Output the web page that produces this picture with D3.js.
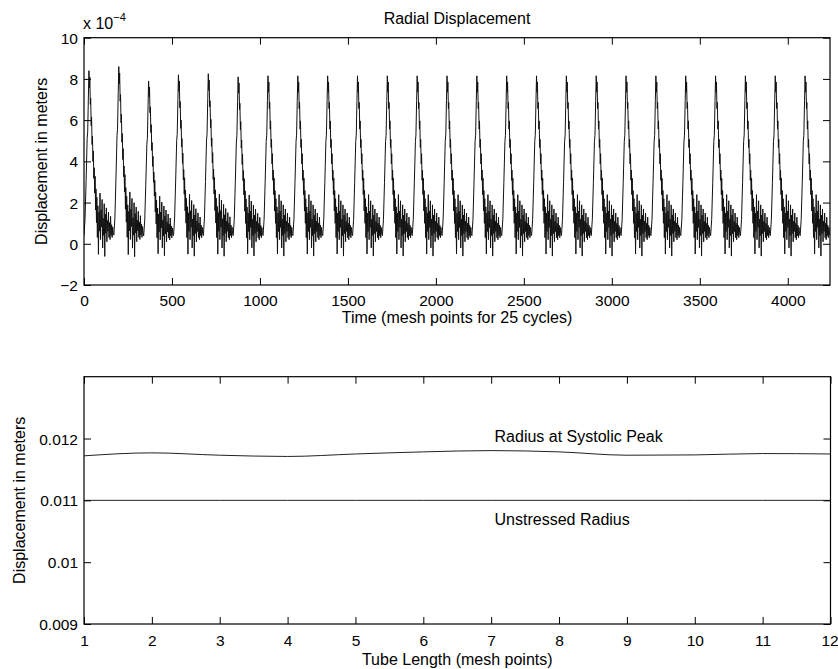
<!DOCTYPE html>
<html>
<head>
<meta charset="utf-8">
<script src="https://d3js.org/d3.v7.min.js"></script>
<style>
  body { margin: 0; background: #fff; }
  text { font-family: "Liberation Sans", Arial, Helvetica, sans-serif; fill: #000; }
</style>
</head>
<body>
<div id="chart"></div>
<script>
// top panel: radial displacement over 25 cardiac cycles (units of 1e-4 m)
var cycleCount = 25;
var cyclePeriod = 169.6;   // mesh points per cycle
var cyclePeaks = [8.4, 8.6, 7.9, 8.2, 8.25, 8.1, 8.15, 8.15, 8.15, 8.15, 8.15, 8.15, 8.15,
                  8.15, 8.15, 8.15, 8.15, 8.15, 8.15, 8.15, 8.15, 8.15, 8.15, 8.15, 8.15];
// one cycle: offset in mesh points, value
var shapeT = [0, 6, 12, 18, 21, 25, 28, 31, 33, 36, 38, 41, 43, 46, 48, 51, 53, 56, 58, 61, 63,
              66, 68, 71, 73, 76, 79, 82, 85, 88, 91, 94, 97, 100, 103, 106, 109, 112, 115, 118,
              121, 124, 127, 130, 133, 136, 139, 142, 145, 148, 151, 154, 157, 160, 163, 166];
var shapeV = [0.4, 1.2, 3.0, 5.0, 5.3, 7.0, 8.2, 7.4, 7.9, 6.6, 6.9, 5.6, 6.0, 4.7, 5.1, 3.9, 4.4,
              3.1, 3.6, 2.4, 3.2, 1.6, 2.6, 1.0, 2.2, 0.3, 1.8, -0.5, 1.5, 0.6, 2.4, 0.2, 1.6, 0.8,
              2.1, -0.2, 1.2, 0.4, 1.9, -0.6, 1.4, 0.5, 1.7, 0.1, 1.1, 0.6, 1.5, 0.3, 1.0, 0.2, 1.3,
              0.4, 0.9, 0.3, 0.8, 0.5];
var timeTicks = [0, 500, 1000, 1500, 2000, 2500, 3000, 3500, 4000];
var dispTicks = [-2, 0, 2, 4, 6, 8, 10];

// bottom panel: radius along the tube
var meshPoints = [1, 2, 3, 4, 5, 6, 7, 8, 9, 10, 11, 12];
var systolicRadius = [0.01172, 0.011768, 0.01173, 0.01171, 0.01175, 0.011784, 0.011805,
                      0.011784, 0.01173, 0.011735, 0.011757, 0.01175];
var unstressedRadius = [0.011, 0.011, 0.011, 0.011, 0.011, 0.011, 0.011, 0.011, 0.011, 0.011, 0.011, 0.011];
var radiusTicks = [0.009, 0.01, 0.011, 0.012];
var lineLabels = [
    { text: "Radius at Systolic Peak", x: 7.05, y: 0.01203 },
    { text: "Unstressed Radius", x: 7.05, y: 0.0107 }
];

var svgWidth = 838;
var svgHeight = 669;
var tick = 7;

var svg = d3.select("#chart")
    .append("svg")
    .attr("width", svgWidth)
    .attr("height", svgHeight);

// build the time series from the cycle read above
var series = [];
for (var k = 0; k < cycleCount; k++) {
    var start = k * cyclePeriod;
    var s = cyclePeaks[k] / 8.2;
    shapeT.forEach(function (t, i) {
        series.push({ t: start + t, v: shapeV[i] * s });
    });
}
series.push({ t: cycleCount * cyclePeriod, v: 0.4 });

function box(g, w, h) {
    g.append("rect")
        .attr("width", w)
        .attr("height", h)
        .attr("fill", "none")
        .attr("stroke", "#000")
        .attr("stroke-width", 1.2);
}

function axes(g, x, y, w, h, xTicks, yTicks, xFmt, yFmt, labelY) {
    var bottom = g.append("g")
        .attr("transform", `translate(0, ${h})`)
        .call(d3.axisBottom(x).tickValues(xTicks).tickSizeInner(-tick).tickSizeOuter(0).tickFormat(xFmt));
    bottom.selectAll("text").attr("y", labelY).attr("dy", null).style("font-size", "15.5px");

    g.append("g")
        .call(d3.axisTop(x).tickValues(xTicks).tickSizeInner(-tick).tickSizeOuter(0).tickFormat(""));

    var left = g.append("g")
        .call(d3.axisLeft(y).tickValues(yTicks).tickSizeInner(-tick).tickSizeOuter(0)
            .tickPadding(6).tickFormat(yFmt));
    left.selectAll("text").style("font-size", "15.5px").attr("dy", "0.36em");

    g.append("g")
        .attr("transform", `translate(${w}, 0)`)
        .call(d3.axisRight(y).tickValues(yTicks).tickSizeInner(-tick).tickSizeOuter(0).tickFormat(""));

    g.selectAll(".domain").remove();
    g.selectAll(".tick line").attr("stroke", "#000").attr("stroke-width", 1);
    g.selectAll(".tick text").attr("fill", "#000").style("font-family", "Liberation Sans, Arial, sans-serif");
    box(g, w, h);
}

// ---- top panel ----
var top1 = { left: 84, top: 37.7, width: 746, height: 247.3 };
var g1 = svg.append("g").attr("transform", `translate(${top1.left}, ${top1.top})`);

var xTime = d3.scaleLinear().domain([0, cycleCount * cyclePeriod]).range([0, top1.width]);
var yDisp = d3.scaleLinear().domain([-2, 10]).range([top1.height, 0]);

g1.append("clipPath").attr("id", "clip1")
    .append("rect").attr("width", top1.width).attr("height", top1.height);

g1.append("path")
    .datum(series)
    .attr("clip-path", "url(#clip1)")
    .attr("fill", "none")
    .attr("stroke", "#111")
    .attr("stroke-width", 1)
    .attr("d", d3.line().x(function (d) { return xTime(d.t); }).y(function (d) { return yDisp(d.v); }));

axes(g1, xTime, yDisp, top1.width, top1.height, timeTicks, dispTicks, d3.format("d"),
    function (d) { return d < 0 ? "\u2212" + Math.abs(d) : d; }, 21);

svg.append("text")
    .attr("x", top1.left + top1.width / 2)
    .attr("y", 24)
    .style("text-anchor", "middle")
    .style("font-size", "16px")
    .text("Radial Displacement");

var expo = svg.append("text")
    .attr("x", 83)
    .attr("y", 29)
    .style("font-size", "16px");
expo.append("tspan").text("x 10");
expo.append("tspan").attr("dy", -8).style("font-size", "11px").text("\u22124");

svg.append("text")
    .attr("x", top1.left + top1.width / 2)
    .attr("y", 323)
    .style("text-anchor", "middle")
    .style("font-size", "16px")
    .text("Time (mesh points for 25 cycles)");

svg.append("text")
    .attr("transform", "rotate(-90)")
    .attr("x", -(top1.top + top1.height / 2))
    .attr("y", 47)
    .style("text-anchor", "middle")
    .style("font-size", "16px")
    .text("Displacement in meters");

// ---- bottom panel ----
var bot = { left: 84, top: 376.7, width: 746.5, height: 247.3 };
var g2 = svg.append("g").attr("transform", `translate(${bot.left}, ${bot.top})`);

var xMesh = d3.scaleLinear().domain([1, 12]).range([0, bot.width]);
var yRad = d3.scaleLinear().domain([0.009, 0.013]).range([bot.height, 0]);

var radiusLine = d3.line()
    .x(function (d, i) { return xMesh(meshPoints[i]); })
    .y(function (d) { return yRad(d); })
    .curve(d3.curveMonotoneX);

[systolicRadius, unstressedRadius].forEach(function (values) {
    g2.append("path")
        .datum(values)
        .attr("fill", "none")
        .attr("stroke", "#222")
        .attr("stroke-width", 1)
        .attr("d", radiusLine);
});

g2.selectAll(".line-label")
    .data(lineLabels)
    .enter().append("text")
    .attr("class", "line-label")
    .attr("x", function (d) { return xMesh(d.x); })
    .attr("y", function (d) { return yRad(d.y); })
    .attr("dy", "0.36em")
    .style("font-size", "16px")
    .text(function (d) { return d.text; });

axes(g2, xMesh, yRad, bot.width, bot.height, meshPoints, radiusTicks, d3.format("d"),
    function (d) { return String(d); }, 22);

// keep the last tick label inside the window
g2.selectAll(".tick text").filter(function (d) { return d === 12; }).attr("dx", "-1px");

svg.append("text")
    .attr("x", bot.left + bot.width / 2)
    .attr("y", 665)
    .style("text-anchor", "middle")
    .style("font-size", "16px")
    .text("Tube Length (mesh points)");

svg.append("text")
    .attr("transform", "rotate(-90)")
    .attr("x", -(bot.top + bot.height / 2))
    .attr("y", 25)
    .style("text-anchor", "middle")
    .style("font-size", "16px")
    .text("Displacement in meters");
</script>
</body>
</html>
